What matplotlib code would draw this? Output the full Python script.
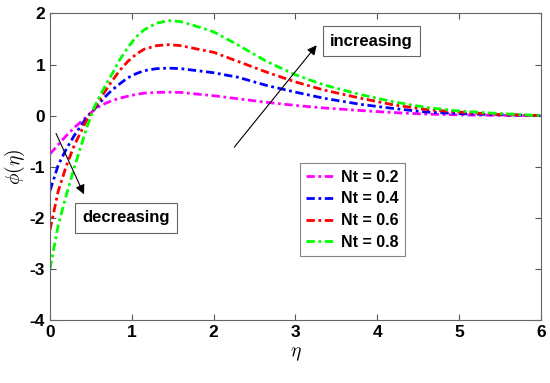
import numpy as np
import matplotlib
matplotlib.use('Agg')
from matplotlib import pyplot as plt

plt.rcParams['font.family'] = ['Liberation Sans', 'DejaVu Sans']
plt.rcParams['font.weight'] = 'bold'
plt.rcParams['mathtext.fontset'] = 'cm'
plt.rcParams['axes.unicode_minus'] = False

# values
eta = [0, 0.1, 0.2, 0.3, 0.45, 0.55, 0.65, 0.75, 0.85, 0.95, 1.05, 1.15, 1.3, 1.45, 1.6, 1.75,
       2.0, 2.3, 2.65, 3.0, 3.35, 3.8, 4.2, 4.6, 5.0, 5.4, 6.0]
phi_02 = [-0.75, -0.57, -0.39, -0.23, -0.02, 0.13, 0.22, 0.29, 0.34, 0.38, 0.415, 0.44, 0.455, 0.46, 0.455, 0.43,
          0.39, 0.33, 0.26, 0.20, 0.15, 0.10, 0.06, 0.03, 0.015, 0.007, 0.0]
phi_04 = [-1.47, -0.97, -0.65, -0.38, -0.03, 0.14, 0.33, 0.49, 0.62, 0.74, 0.82, 0.88, 0.92, 0.93, 0.92, 0.89,
          0.84, 0.75, 0.59, 0.46, 0.34, 0.22, 0.14, 0.07, 0.04, 0.02, 0.0]
phi_06 = [-2.24, -1.48, -0.98, -0.57, -0.08, 0.16, 0.42, 0.66, 0.88, 1.06, 1.20, 1.30, 1.37, 1.39, 1.37, 1.32,
          1.24, 1.06, 0.85, 0.66, 0.50, 0.34, 0.21, 0.12, 0.07, 0.03, 0.0]
phi_08 = [-3.0, -2.15, -1.55, -1.0, -0.23, 0.2, 0.51, 0.79, 1.09, 1.33, 1.54, 1.68, 1.81, 1.86, 1.84, 1.77,
          1.64, 1.38, 1.06, 0.80, 0.60, 0.41, 0.27, 0.16, 0.09, 0.05, 0.0]
labels = ['Nt = 0.2', 'Nt = 0.4', 'Nt = 0.6', 'Nt = 0.8']
colors = ['#ff00ff', '#0000ff', '#ff0000', '#00ff00']

fig = plt.figure(figsize=(5.5, 3.83), dpi=100)
ax = fig.add_axes([0.0909, 0.1645, 0.8927, 0.8003])

for y, lab, c in zip([phi_02, phi_04, phi_06, phi_08], labels, colors):
    ax.plot(eta, y, linestyle=(0, (3, 1.3, 1, 1.3)), color=c, lw=2, label=lab)

ax.set_xlim(0, 6)
ax.set_ylim(-4, 2)
ax.set_xticks(range(0, 7))
ax.set_yticks(range(-4, 3))
ax.tick_params(direction='in', labelsize=12.5, length=4, color='#555555', top=True, right=True)
for s in ax.spines.values():
    s.set_color('#666666')
for t in ax.get_xticklabels() + ax.get_yticklabels():
    t.set_fontweight('bold')

ax.set_xlabel(r'$\eta$', fontsize=14, labelpad=4)
ax.set_ylabel(r'$\phi(\eta)$', fontsize=14, labelpad=2)

leg = ax.legend(loc='upper left', bbox_to_anchor=(0.509, 0.511), fontsize=11.5,
                fancybox=False, handlelength=1.7, labelspacing=0.42,
                borderpad=0.4, handletextpad=0.5, borderaxespad=0)
leg.get_frame().set_edgecolor('#666666')
leg.get_frame().set_linewidth(0.8)
for t in leg.get_texts():
    t.set_fontweight('bold')

box = dict(boxstyle='square,pad=0.45', fc='white', ec='#666666', lw=0.8)
ax.text(3.93, 1.46, 'increasing', fontsize=12, fontweight='bold', ha='center', va='center', bbox=box)
ax.text(0.93, -2.0, 'decreasing', fontsize=12, fontweight='bold', ha='center', va='center', bbox=box)
ax.annotate('', xy=(3.28, 1.42), xytext=(2.23, -0.66),
            arrowprops=dict(arrowstyle='-|>', color='black', lw=0.8, mutation_scale=14))
ax.annotate('', xy=(0.43, -1.59), xytext=(0.06, -0.3),
            arrowprops=dict(arrowstyle='-|>', color='black', lw=0.8, mutation_scale=14))

fig.savefig('out.png', dpi=100)
